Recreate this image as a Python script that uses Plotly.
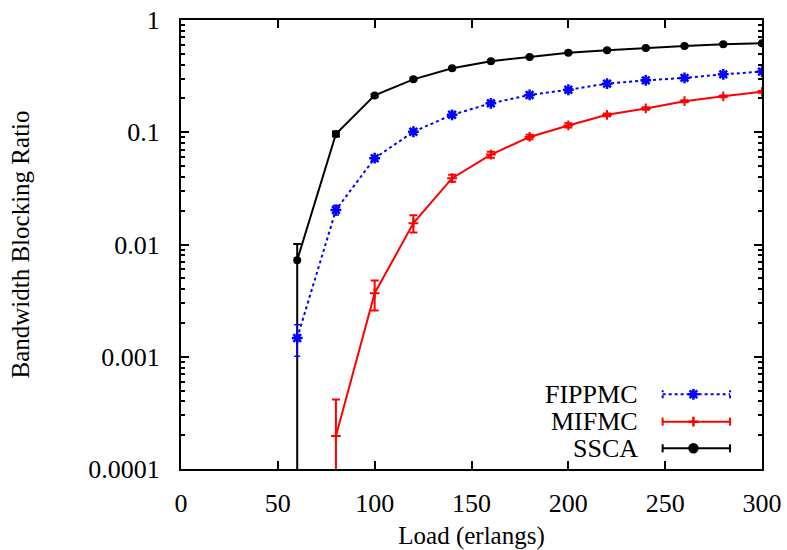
import plotly.graph_objects as go

# Offered load (erlangs)
load = [60, 80, 100, 120, 140, 160, 180, 200, 220, 240, 260, 280, 300]

# Bandwidth blocking ratio per scheme, with confidence half-widths
fippmc = [0.00147, 0.0203, 0.0587, 0.101, 0.143, 0.181, 0.215, 0.239, 0.271, 0.290, 0.305, 0.328, 0.347]
fippmc_err = [0.00046, 0.002, 0.003, 0.004, 0.004, 0.004, 0.004, 0.005, 0.005, 0.005, 0.005, 0.005, 0.005]

mifmc_load = load[1:]
mifmc = [0.000197, 0.00368, 0.0155, 0.039, 0.0632, 0.0908, 0.115, 0.143, 0.163, 0.189, 0.209, 0.229]
mifmc_err = [0.00022, 0.0011, 0.0027, 0.0028, 0.004, 0.004, 0.005, 0.004, 0.004, 0.004, 0.004, 0.004]

ssca = [0.00725, 0.0966, 0.213, 0.296, 0.371, 0.429, 0.469, 0.511, 0.537, 0.563, 0.587, 0.608, 0.620]
ssca_err_plus = [0.00285, 0.005, 0.006, 0.006, 0.006, 0.006, 0.006, 0.006, 0.006, 0.006, 0.006, 0.006, 0.006]
ssca_err_minus = [0.01, 0.005, 0.006, 0.006, 0.006, 0.006, 0.006, 0.006, 0.006, 0.006, 0.006, 0.006, 0.006]

y_tickvals = [1e-4, 1e-3, 1e-2, 1e-1, 1]
y_ticktext = ["0.0001", "0.001", "0.01", "0.1", "1"]
x_tickvals = [0, 50, 100, 150, 200, 250, 300]

names = ["FIPPMC", "MIFMC", "SSCA"]
BLUE, RED, BLACK = "#0000ff", "#ff0000", "#000000"
FONT = "Liberation Serif"

fig = go.Figure()

fig.add_trace(go.Scatter(
    x=load, y=ssca, mode="lines+markers", name=names[2], showlegend=False,
    line=dict(color=BLACK, width=2),
    marker=dict(symbol="circle", size=8, color=BLACK),
    error_y=dict(type="data", symmetric=False, array=ssca_err_plus,
                 arrayminus=ssca_err_minus, color=BLACK, thickness=2, width=4),
))
fig.add_trace(go.Scatter(
    x=mifmc_load, y=mifmc, mode="lines+markers", name=names[1], showlegend=False,
    line=dict(color=RED, width=2),
    marker=dict(symbol="cross-thin-open", size=7, color=RED, line=dict(color=RED, width=2)),
    error_y=dict(type="data", array=mifmc_err, color=RED, thickness=2, width=4),
))
fig.add_trace(go.Scatter(
    x=load, y=fippmc, mode="lines+markers", name=names[0], showlegend=False,
    line=dict(color=BLUE, width=2, dash="dot"),
    marker=dict(symbol="asterisk-open", size=9, color=BLUE, line=dict(color=BLUE, width=2.5)),
    error_y=dict(type="data", array=fippmc_err, color=BLUE, thickness=1.5, width=3),
))

# Key drawn gnuplot-style: label on the left, line sample with end caps on the right
key_rows = [0.1664, 0.1054, 0.0461]
key_x0, key_xm, key_x1, key_text_x = 0.829, 0.882, 0.945, 0.790
key_styles = [
    (BLUE, "dot", "asterisk-open", 9),
    (RED, "solid", "cross-thin-open", 7),
    (BLACK, "solid", "circle", 8),
]
for name, ky, (col, dash, sym, size) in zip(names, key_rows, key_styles):
    fig.add_trace(go.Scatter(
        x=[key_x0, key_x1], y=[ky, ky], mode="lines", xaxis="x2", yaxis="y2",
        showlegend=False, hoverinfo="skip", line=dict(color=col, width=2, dash=dash),
    ))
    fig.add_trace(go.Scatter(
        x=[key_xm], y=[ky], mode="markers", xaxis="x2", yaxis="y2",
        showlegend=False, hoverinfo="skip",
        marker=dict(symbol=sym, size=size, color=col, line=dict(color=col, width=2.5)),
    ))
    for cx in (key_x0, key_x1):
        fig.add_shape(type="line", xref="x2", yref="y2", x0=cx, x1=cx,
                      y0=ky - 0.009, y1=ky + 0.009,
                      line=dict(color=col, width=2, dash=dash))
    fig.add_annotation(x=key_text_x, y=ky, xref="x2", yref="y2", text=name,
                       showarrow=False, xanchor="right", yanchor="middle",
                       font=dict(family=FONT, size=26, color="black"))

axis_common = dict(
    showline=True, linewidth=2, linecolor="black", mirror="ticks",
    ticks="inside", ticklen=8, tickwidth=1.5, tickcolor="black",
    showgrid=False, zeroline=False, automargin=False,
    tickfont=dict(family=FONT, size=26, color="black"),
    title_font=dict(family=FONT, size=25, color="black"),
)

minor_vals = [k * 10 ** e for e in range(-4, 0) for k in range(2, 10)]

fig.update_layout(
    width=787, height=550,
    margin=dict(l=181, r=25, t=20, b=81),
    paper_bgcolor="white", plot_bgcolor="white",
    xaxis=dict(range=[0, 300], tickmode="array", tickvals=x_tickvals,
               title=dict(text="Load (erlangs)", standoff=14),
               ticklabelstandoff=10, **axis_common),
    yaxis=dict(type="log", range=[-4, 0], tickmode="array", tickvals=y_tickvals,
               ticktext=y_ticktext,
               title=dict(text="Bandwidth Blocking Ratio", standoff=52),
               ticklabelstandoff=14,
               minor=dict(ticks="inside", ticklen=4, tickwidth=1.5, tickcolor="black",
                          tickmode="array", tickvals=minor_vals, showgrid=False),
               **axis_common),
    xaxis2=dict(range=[0, 1], overlaying="x", visible=False, fixedrange=True),
    yaxis2=dict(range=[0, 1], overlaying="y", visible=False, fixedrange=True),
)

fig.write_html("out.html")
